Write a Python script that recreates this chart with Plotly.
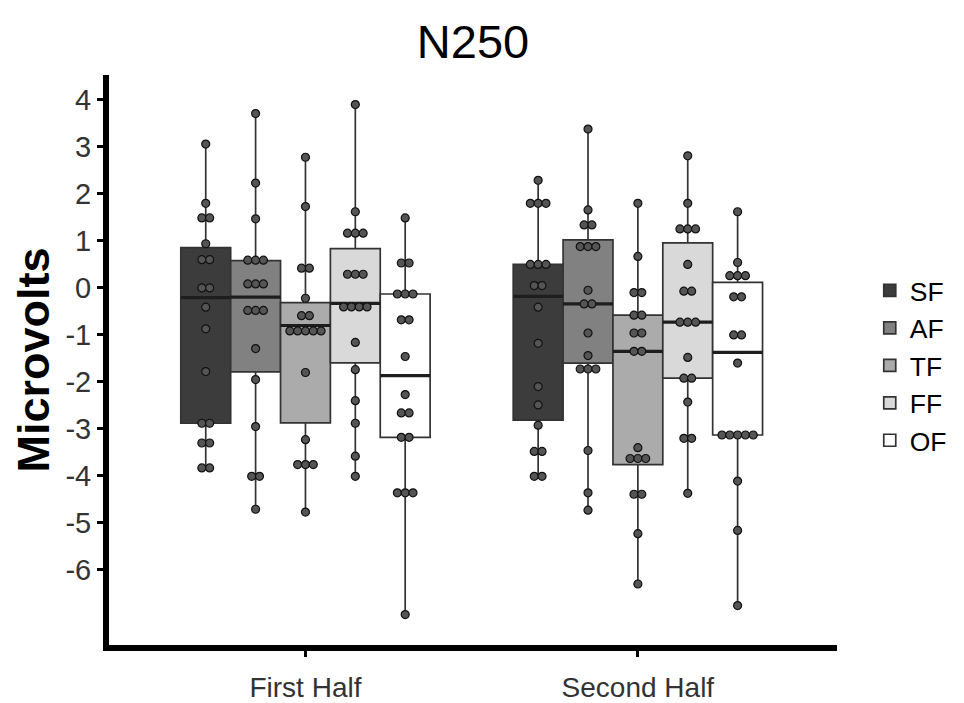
import numpy as np
import plotly.graph_objects as go

conditions = ["SF", "AF", "TF", "FF", "OF"]
halves = ["First Half", "Second Half"]
y_ticks = [-6, -5, -4, -3, -2, -1, 0, 1, 2, 3, 4]

sf_first = [3.06, 1.80, 1.49, 1.49, 0.94, 0.60, 0.60, 0.00, 0.00, -0.41, -0.87, -1.78, -2.88, -2.88, -3.30, -3.30, -3.83, -3.83]
af_first = [3.71, 2.23, 1.47, 0.62, 0.59, 0.56, 0.085, 0.085, 0.085, -0.48, -0.48, -0.48, -1.29, -1.95, -2.95, -4.01, -4.01, -4.71]
tf_first = [2.78, 1.73, 0.42, 0.42, -0.22, -0.59, -0.59, -0.80, -0.80, -0.80, -1.02, -1.03, -1.80, -3.23, -3.76, -3.76, -3.76, -4.77]
ff_first = [3.90, 1.62, 1.31, 1.17, 1.02, 0.29, 0.29, 0.29, -0.33, -0.33, -0.45, -0.48, -1.16, -1.74, -2.40, -2.88, -3.58, -4.01]
of_first = [1.49, 0.53, 0.53, -0.13, -0.13, -0.13, -0.68, -0.68, -1.46, -2.27, -2.66, -2.66, -3.18, -3.18, -4.36, -4.36, -4.36, -6.95]

sf_second = [2.29, 1.80, 1.80, 1.80, 0.50, 0.50, 0.50, 0.05, 0.05, -0.41, -1.18, -2.10, -2.49, -2.92, -3.48, -3.48, -4.01, -4.01]
af_second = [3.38, 1.66, 1.34, 1.34, 1.02, 1.02, 0.74, -0.05, -0.30, -0.38, -0.96, -1.44, -1.60, -1.60, -1.85, -3.46, -4.36, -4.73]
tf_second = [1.80, 0.67, -0.10, -0.10, -0.58, -0.58, -0.96, -0.96, -1.35, -1.35, -3.40, -3.50, -3.76, -3.76, -4.39, -4.39, -5.23, -6.30]
ff_second = [2.81, 1.80, 1.40, 1.26, 1.11, 0.50, -0.07, -0.07, -0.73, -0.73, -0.73, -1.48, -1.92, -1.92, -2.43, -3.20, -3.20, -4.37]
of_second = [1.62, 0.54, 0.30, 0.26, 0.22, -0.19, -0.19, -0.86, -1.14, -1.60, -3.13, -3.13, -3.13, -3.13, -3.13, -4.11, -5.16, -6.76]

data = {
    "SF": [sf_first, sf_second],
    "AF": [af_first, af_second],
    "TF": [tf_first, tf_second],
    "FF": [ff_first, ff_second],
    "OF": [of_first, of_second],
}
fills = {"SF": "#3c3c3c", "AF": "#818181", "TF": "#ababab", "FF": "#d9d9d9", "OF": "#ffffff"}

BOX_W = 0.15          # dodge width per box (x units)
BINWIDTH = 0.3        # dot-density bin width (y units)
DOT_DX = 0.0235       # horizontal stacking step (x units)
FONT = "Liberation Sans, Arial, sans-serif"


def box_stats(vals):
    v = np.asarray(vals, dtype=float)
    q1, med, q3 = np.percentile(v, [25, 50, 75])
    iqr = q3 - q1
    lo = v[v >= q1 - 1.5 * iqr].min()
    hi = v[v <= q3 + 1.5 * iqr].max()
    return q1, med, q3, lo, hi


def dot_density(vals, bw):
    v = np.sort(np.asarray(vals, dtype=float))
    bins, binend = [], -np.inf
    for x in v:
        if x >= binend:
            bins.append([])
            binend = x + bw
        bins[-1].append(x)
    return [((min(b) + max(b)) / 2, len(b)) for b in bins]


fig = go.Figure()
med_x, med_y = [], []
dot_x, dot_y = [], []

for ci, cond in enumerate(conditions):
    offset = (ci - 2) * BOX_W
    xs, q1s, meds, q3s, los, his = [], [], [], [], [], []
    for hi_idx, vals in enumerate(data[cond]):
        xc = hi_idx + 1 + offset
        q1, med, q3, lo, hi = box_stats(vals)
        xs.append(xc); q1s.append(q1); meds.append(med); q3s.append(q3); los.append(lo); his.append(hi)
        med_x += [xc - BOX_W / 2, xc + BOX_W / 2, None]
        med_y += [med, med, None]
        for center, n in dot_density(vals, BINWIDTH):
            for k in range(n):
                dot_x.append(xc + (k - (n - 1) / 2) * DOT_DX)
                dot_y.append(center)
    fig.add_trace(go.Box(
        name=cond, x=xs, q1=q1s, median=meds, q3=q3s,
        lowerfence=los, upperfence=his,
        width=BOX_W, whiskerwidth=0, boxpoints=False,
        fillcolor=fills[cond], line=dict(color="#333333", width=1.7),
        hoverinfo="skip",
    ))

fig.add_trace(go.Scatter(x=med_x, y=med_y, mode="lines",
                         line=dict(color="#1e1e1e", width=3.2),
                         showlegend=False, hoverinfo="skip"))
fig.add_trace(go.Scatter(x=dot_x, y=dot_y, mode="markers",
                         marker=dict(size=8, color="#555555",
                                     line=dict(color="#111111", width=1.2)),
                         showlegend=False, hoverinfo="skip"))

fig.update_layout(
    width=964, height=703,
    margin=dict(l=109, r=127, t=75, b=58),
    paper_bgcolor="white", plot_bgcolor="white",
    boxmode="overlay",
    font=dict(family=FONT, color="#333333"),
    title=dict(text="N250", x=0.5, xref="paper", xanchor="center",
               y=1 - 42 / 703, yref="container", yanchor="middle",
               font=dict(size=47, color="black", family=FONT)),
    xaxis=dict(range=[0.409, 2.599], tickvals=[1, 2], ticktext=halves,
               automargin=False,
               showline=True, linewidth=6, linecolor="black",
               ticks="outside", ticklen=6, tickwidth=2.5, tickcolor="black",
               ticklabelstandoff=6,
               tickfont=dict(size=28, color="#333333"),
               showgrid=False, zeroline=False),
    yaxis=dict(range=[-7.598, 4.53], tickvals=y_ticks,
               ticktext=[str(t) for t in y_ticks],
               automargin=False,
               showline=True, linewidth=6, linecolor="black",
               ticks="outside", ticklen=6, tickwidth=2.5, tickcolor="black",
               tickfont=dict(size=29, color="#333333"),
               title=dict(text="<b>Microvolts</b>", standoff=4,
                          font=dict(size=45, color="black", family=FONT)),
               showgrid=False, zeroline=False),
    legend=dict(x=1.045, xanchor="left", y=0.49, yanchor="middle",
                font=dict(size=26.5, color="black", family=FONT),
                bgcolor="rgba(0,0,0,0)", traceorder="normal"),
)

fig.write_html("out.html")
